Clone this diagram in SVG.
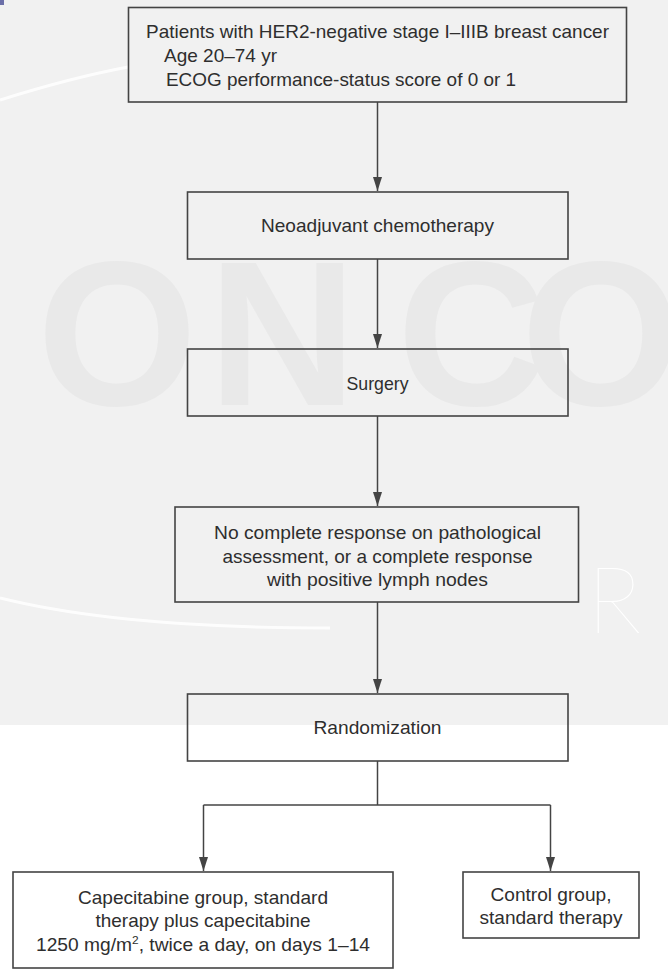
<svg xmlns="http://www.w3.org/2000/svg" width="668" height="973" viewBox="0 0 668 973">
  <style>
    .box { fill: none; stroke: #444; stroke-width: 1.6; }
    .t { font-family: "Liberation Sans", Arial, sans-serif; font-size: 18.5px; fill: #2e2e2e; }
    .c { text-anchor: middle; }
    .conn { fill: none; stroke: #444; stroke-width: 1.5; }
    .wm { font-family: "Liberation Sans", Arial, sans-serif; font-weight: bold; font-size: 206px; fill: #e9e9e9; }
  </style>
  <defs>
    <marker id="arr" markerUnits="userSpaceOnUse" markerWidth="15" markerHeight="10" refX="14" refY="4.5" orient="auto">
      <path d="M0,0 L14,4.5 L0,9 Z" fill="#444"/>
    </marker>
  </defs>

  <g id="background">
    <rect x="0" y="0" width="668" height="725" fill="#f1f1f1"/>
    <rect x="0" y="725" width="668" height="248" fill="#ffffff"/>
    <path d="M0,100 Q 70,78 128,67" fill="none" stroke="#ffffff" stroke-width="3" opacity="0.85"/>
    <path d="M0,598 Q 120,628 330,628" fill="none" stroke="#ffffff" stroke-width="3" opacity="0.85"/>
    <text class="wm" x="37 208 397 521" y="405">ONCO</text>
    <text x="587" y="633" font-family="Lato, 'Liberation Sans', sans-serif" font-weight="100" font-size="92" fill="#ffffff">R</text>
    <rect x="0" y="0" width="4" height="5" fill="#6b6fa8"/>
  </g>

  <g id="connectors">
    <line class="conn" x1="377.5" y1="102" x2="377.5" y2="191" marker-end="url(#arr)"/>
    <line class="conn" x1="377.5" y1="259" x2="377.5" y2="348" marker-end="url(#arr)"/>
    <line class="conn" x1="377.5" y1="416" x2="377.5" y2="506" marker-end="url(#arr)"/>
    <line class="conn" x1="377.5" y1="602" x2="377.5" y2="693" marker-end="url(#arr)"/>
    <line class="conn" x1="377.5" y1="761" x2="377.5" y2="805"/>
    <line class="conn" x1="203.5" y1="805" x2="550.5" y2="805"/>
    <line class="conn" x1="203.5" y1="805" x2="203.5" y2="871" marker-end="url(#arr)"/>
    <line class="conn" x1="550.5" y1="805" x2="550.5" y2="871" marker-end="url(#arr)"/>
  </g>

  <g id="eligibility">
    <rect class="box" x="128.5" y="7.5" width="498" height="94.5"/>
    <text class="t" x="146" y="37.5" textLength="463" lengthAdjust="spacingAndGlyphs">Patients with HER2-negative stage I–IIIB breast cancer</text>
    <text class="t" x="164" y="61.5" textLength="113" lengthAdjust="spacingAndGlyphs">Age 20–74 yr</text>
    <text class="t" x="166" y="86" textLength="350" lengthAdjust="spacingAndGlyphs">ECOG performance-status score of 0 or 1</text>
  </g>

  <g id="neoadjuvant">
    <rect class="box" x="187.5" y="192" width="380.5" height="67"/>
    <text class="t c" x="377.5" y="231.5" textLength="233" lengthAdjust="spacingAndGlyphs">Neoadjuvant chemotherapy</text>
  </g>

  <g id="surgery">
    <rect class="box" x="187.5" y="349" width="380.5" height="67"/>
    <text class="t c" x="377.5" y="390" textLength="62" lengthAdjust="spacingAndGlyphs">Surgery</text>
  </g>

  <g id="residual">
    <rect class="box" x="175" y="507" width="403.5" height="95"/>
    <text class="t c" x="377.5" y="539" textLength="327" lengthAdjust="spacingAndGlyphs">No complete response on pathological</text>
    <text class="t c" x="377.5" y="562.5" textLength="310" lengthAdjust="spacingAndGlyphs">assessment, or a complete response</text>
    <text class="t c" x="377.5" y="586" textLength="221" lengthAdjust="spacingAndGlyphs">with positive lymph nodes</text>
  </g>

  <g id="randomization">
    <rect class="box" x="187.5" y="694" width="380.5" height="67"/>
    <text class="t c" x="377.5" y="734" textLength="128" lengthAdjust="spacingAndGlyphs">Randomization</text>
  </g>

  <g id="capecitabine">
    <rect class="box" x="13" y="872" width="380" height="96"/>
    <text class="t c" x="203" y="904" textLength="250" lengthAdjust="spacingAndGlyphs">Capecitabine group, standard</text>
    <text class="t c" x="203" y="927" textLength="215" lengthAdjust="spacingAndGlyphs">therapy plus capecitabine</text>
    <text class="t c" x="203" y="951" textLength="334" lengthAdjust="spacingAndGlyphs">1250 mg/m<tspan font-size="11.5" dy="-7">2</tspan><tspan dy="7">, twice a day, on days 1–14</tspan></text>
  </g>

  <g id="control">
    <rect class="box" x="463" y="872" width="176" height="66"/>
    <text class="t c" x="551" y="900.5" textLength="121" lengthAdjust="spacingAndGlyphs">Control group,</text>
    <text class="t c" x="551" y="924" textLength="143" lengthAdjust="spacingAndGlyphs">standard therapy</text>
  </g>
</svg>
